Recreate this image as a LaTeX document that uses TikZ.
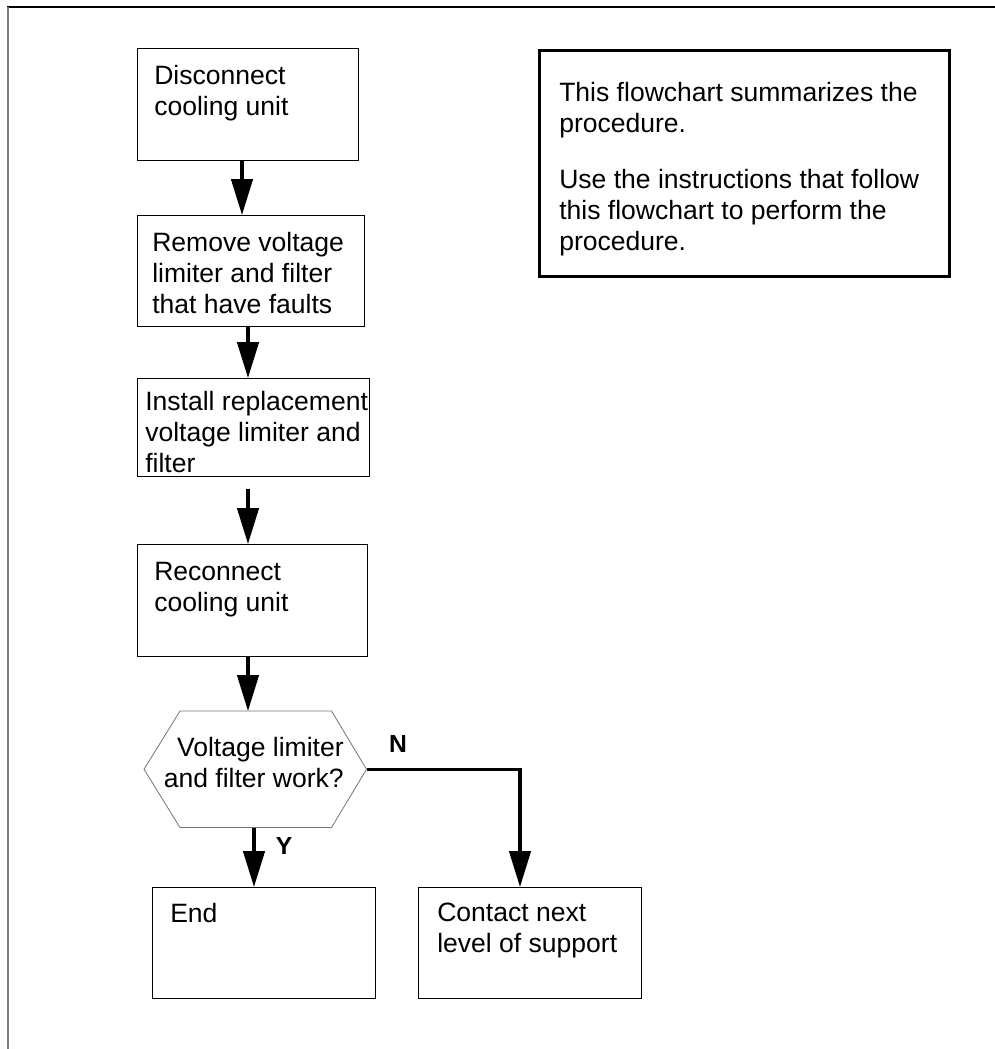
\documentclass[tikz,border=0pt]{standalone}
\usepackage{fontspec}
\setmainfont{Liberation Sans}
\usetikzlibrary{arrows.meta}
\begin{document}
\begin{tikzpicture}[x=0.75pt,y=-0.75pt,
  stepbox/.style={draw=black,line width=0.9pt,inner sep=0pt,anchor=north west},
  notebox/.style={draw=black,line width=1.9pt,inner sep=0pt,anchor=north west},
  boxtext/.style={inner sep=0pt,anchor=north west,align=left,
    font=\fontsize{19.9}{23.25}\selectfont},
  yesno/.style={inner sep=0pt,font=\bfseries\fontsize{18.5}{20}\selectfont},
  flow/.style={line width=2.6pt,-{Triangle[length=27pt 0,width=16pt 0]}}]
\useasboundingbox (0,0) rectangle (995,1049);

% page frame
\draw[black,line width=0.9pt] (7,7) -- (995,7);
\draw[gray,line width=1.5pt] (7.5,7) -- (7.5,1049);

% process boxes
\node[stepbox,minimum width=165.75pt,minimum height=84pt]   (b1) at (137,48) {};
\node[stepbox,minimum width=170.25pt,minimum height=83.25pt] (b2) at (137,215) {};
\node[stepbox,minimum width=174pt,minimum height=73.5pt]    (b3) at (137,378) {};
\node[stepbox,minimum width=172.5pt,minimum height=84pt]    (b4) at (137,544) {};
\node[stepbox,minimum width=167.25pt,minimum height=83.25pt] (end) at (152,887) {};
\node[stepbox,minimum width=167.25pt,minimum height=83.25pt] (ct) at (418,887) {};
\node[notebox,minimum width=307.5pt,minimum height=169.5pt] (note) at (538,49) {};

% decision hexagon
\node[inner sep=0pt,anchor=north west,minimum width=166.5pt,minimum height=87pt] (hex) at (144,711) {};
\draw[gray!90!black,line width=0.6pt]
  (hex.west) -- ([shift={(36,0)}]hex.north west) -- ([shift={(-35,0)}]hex.north east)
  -- (hex.east) -- ([shift={(-35,0)}]hex.south east) -- ([shift={(36,0)}]hex.south west) -- cycle;

% texts
\node[boxtext] (t1) at (154,65) {Disconnect\\cooling unit};
\node[boxtext] (t2) at (152,232) {Remove voltage\\limiter and filter\\that have faults};
\node[boxtext] (t3) at (145,391) {Install replacement\\voltage limiter and\\filter};
\node[boxtext] (t4) at (154,562) {Reconnect\\cooling unit};
\node[boxtext,align=right,anchor=north east] (t5) at (344,737) {Voltage limiter\\and filter work?};
\node[boxtext] (t6) at (170,903) {End};
\node[boxtext] (t7) at (437,903) {Contact next\\level of support};
\node[boxtext] (t8) at (559,82) {This flowchart summarizes the\\procedure.\\[18.75pt]Use the instructions that follow\\this flowchart to perform the\\procedure.};
\node[yesno] (lN) at (398,744) {N};
\node[yesno] (lY) at (284,846) {Y};

% connectors
\draw[flow] ([shift={(105,0)}]b1.south west) -- ([shift={(105,0)}]b2.north west);
\draw[flow] ([shift={(111,0)}]b2.south west) -- ([shift={(111,0)}]b3.north west);
\draw[flow,shorten <=9pt] ([shift={(111,0)}]b3.south west) -- ([shift={(111,0)}]b4.north west);
\draw[flow] ([shift={(111,0)}]b4.south west) -- ([shift={(104,0)}]hex.north west);
\draw[flow] ([shift={(110,0)}]hex.south west) -- ([shift={(102,0)}]end.north west);
\draw[flow] (hex.east) -| ([shift={(102,0)}]ct.north west);
\end{tikzpicture}
\end{document}
